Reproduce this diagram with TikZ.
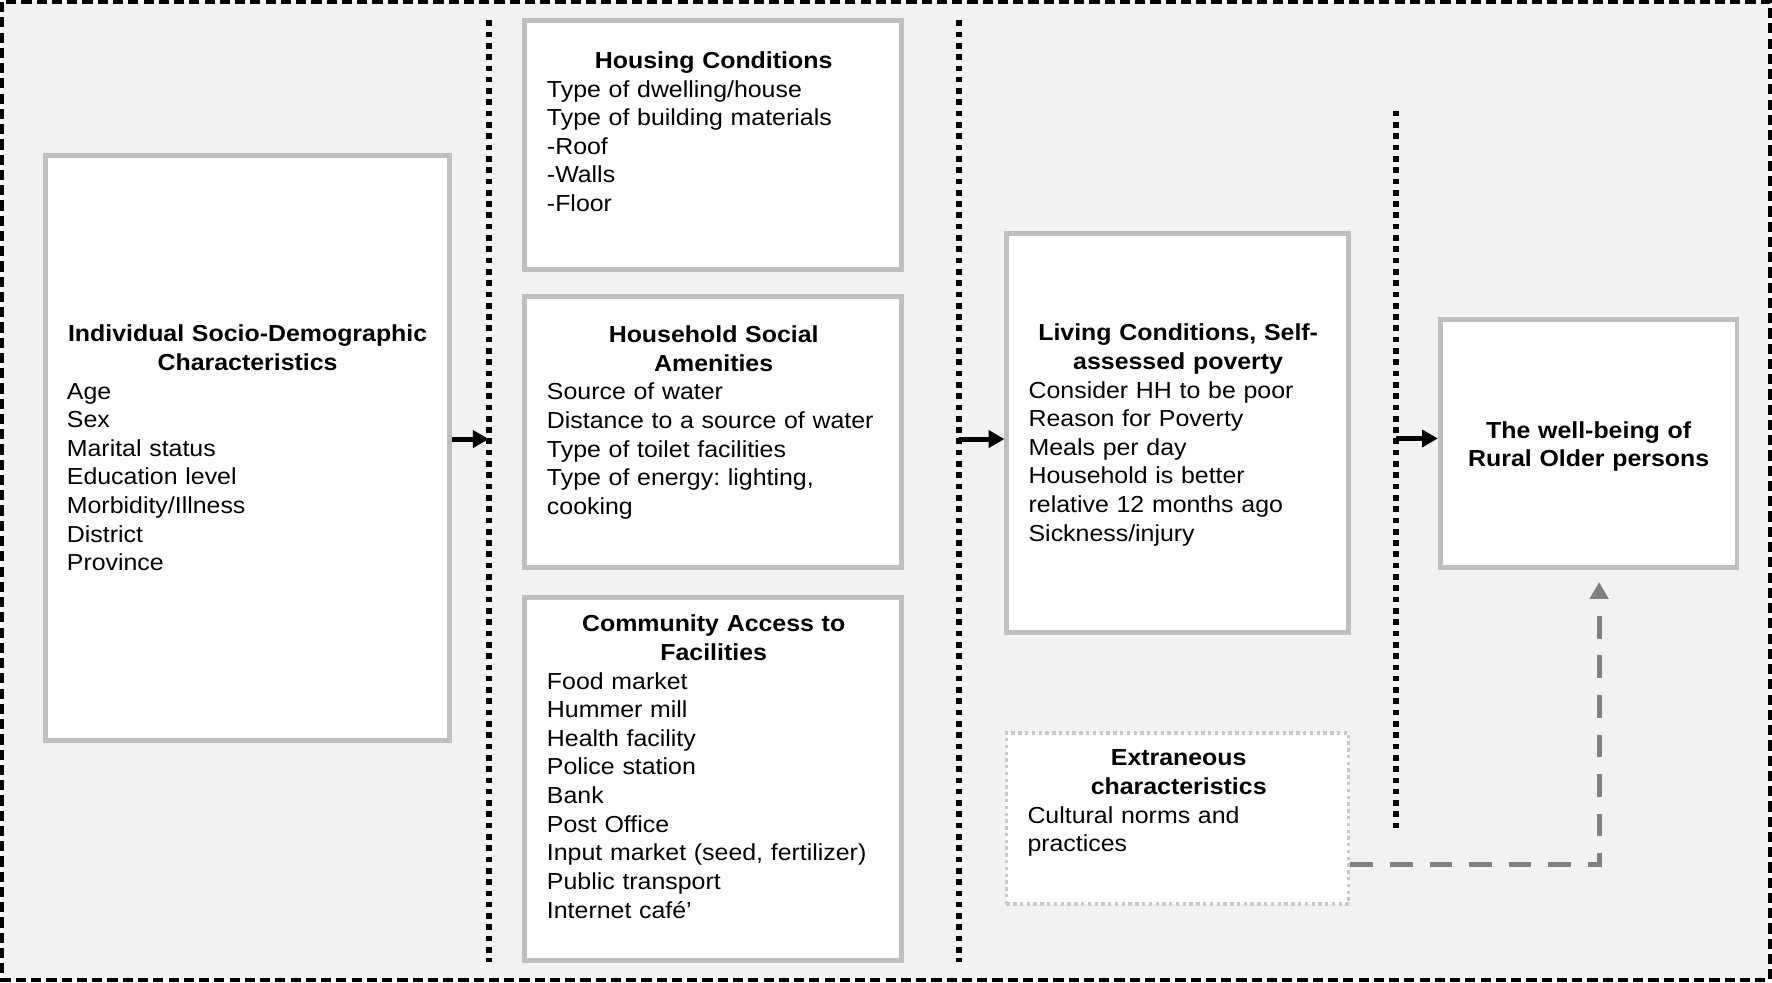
\documentclass[tikz,border=0pt]{standalone}
\usepackage{fontspec}
\setmainfont[FakeStretch=1.075]{Liberation Sans}
\usetikzlibrary{arrows.meta}
\definecolor{bgfill}{gray}{0.949}
\definecolor{boxgray}{RGB}{191,191,191}
\definecolor{arrgray}{RGB}{128,128,128}
\definecolor{dotgray}{RGB}{200,200,200}
\newcommand\boxtitle[1]{\makebox[\linewidth][c]{\bfseries #1}}
\frenchspacing
\begin{document}
\begin{tikzpicture}[x=1pt,y=-1pt,
  frame/.style={draw=black,fill=bgfill,line width=3.5pt,dash pattern=on 9pt off 4.5pt},
  gbox/.style={draw=boxgray,fill=white,line width=4.4pt,inner sep=0pt,rectangle},
  ebox/.style={draw=dotgray,fill=white,line width=3pt,dash pattern=on 3pt off 3pt,inner sep=0pt,rectangle},
  txt/.style={inner sep=0pt,align=left,font=\fontsize{20.5}{25.35}\selectfont\frenchspacing},
  dotline/.style={draw=black,line width=5pt,dash pattern=on 5pt off 5pt},
  arr/.style={draw=black,line width=4.4pt,-{Triangle[length=14pt,width=15pt]}},
  garr/.style={draw=arrgray,line width=4.4pt,dash pattern=on 20pt off 15pt,-{Triangle[length=15pt,width=16pt]}}
]
\useasboundingbox (0,0) rectangle (1568,869);
\fill[white] (0,0) rectangle (1568,869);
\draw[frame] (1.8,1.8) rectangle (1566.2,867);

% boxes
\node[gbox,minimum width=357.5pt,minimum height=517.5pt] (A) at (218.75,396.25) {};
\node[gbox,minimum width=333.5pt,minimum height=220.5pt] (H) at (631.25,128.25) {};
\node[gbox,minimum width=333.5pt,minimum height=240pt] (S) at (631.25,382.5) {};
\node[gbox,minimum width=333.5pt,minimum height=321pt] (F) at (631.25,689) {};
\node[gbox,minimum width=302.5pt,minimum height=352.5pt] (C) at (1042.25,383.25) {};
\node[gbox,minimum width=262.5pt,minimum height=219pt] (D) at (1405.75,392.5) {};
\node[ebox,minimum width=303pt,minimum height=151.5pt] (E) at (1042,724.25) {};

% texts
\node[txt,text width=319.8pt,anchor=base west] (At) at (59,302.4)
 {\boxtitle{Individual Socio-Demographic}\\\boxtitle{Characteristics}\\Age\\Sex\\Marital status\\Education level\\Morbidity/Illness\\District\\Province};
\node[txt,text width=295pt,anchor=base west] (Ht) at (483.8,60.5)
 {\boxtitle{Housing Conditions}\\Type of dwelling/house\\Type of building materials\\-Roof\\-Walls\\-Floor};
\node[txt,text width=295pt,anchor=base west] (St) at (483.8,303)
 {\boxtitle{Household Social}\\\boxtitle{Amenities}\\Source of water\\Distance to a source of water\\Type of toilet facilities\\Type of energy: lighting,\\cooking};
\node[txt,text width=295pt,anchor=base west] (Ft) at (483.8,559)
 {\boxtitle{Community Access to}\\\boxtitle{Facilities}\\Food market\\Hummer mill\\Health facility\\Police station\\Bank\\Post Office\\Input market (seed, fertilizer)\\Public transport\\Internet café’};
\node[txt,text width=264.6pt,anchor=base west] (Ct) at (910,301.5)
 {\boxtitle{Living Conditions, Self-}\\\boxtitle{assessed poverty}\\Consider HH to be poor\\Reason for Poverty\\Meals per day\\Household is better\\relative 12 months ago\\Sickness/injury};
\node[txt,text width=267.6pt,anchor=base west] (Et) at (909,677.6)
 {\boxtitle{Extraneous}\\\boxtitle{characteristics}\\Cultural norms and\\practices};
\node[txt,text width=262.5pt,anchor=base] (Dt) at (1405.75,387.7)
 {\boxtitle{The well-being of}\\\boxtitle{Rural Older persons}};

% dotted separators
\coordinate (d1t) at (432.5,18);
\coordinate (d1b) at (432.5,851);
\coordinate (d2t) at (848.5,18);
\coordinate (d2b) at (848.5,851);
\coordinate (d3t) at (1235,98);
\coordinate (d3b) at (1235,733);
\draw[dotline] (d1t) -- (d1b);
\draw[dotline] (d2t) -- (d2b);
\draw[dotline] (d3t) -- (d3b);

% arrows
\coordinate (p1) at (432.5,388.5);
\coordinate (p2) at (848.5,388.5);
\coordinate (p3) at (1235,388);
\draw[arr] (A.east |- p1) -- (p1);
\draw[arr] (p2) -- (C.west |- p2);
\draw[arr] (p3) -- (D.west |- p3);

% dashed gray connector
\coordinate (gc) at (1415,765);
\coordinate (gt) at (1415,515);
\draw[garr] (E.east |- gc) -- (gc) -- (gt);
\end{tikzpicture}
\end{document}
